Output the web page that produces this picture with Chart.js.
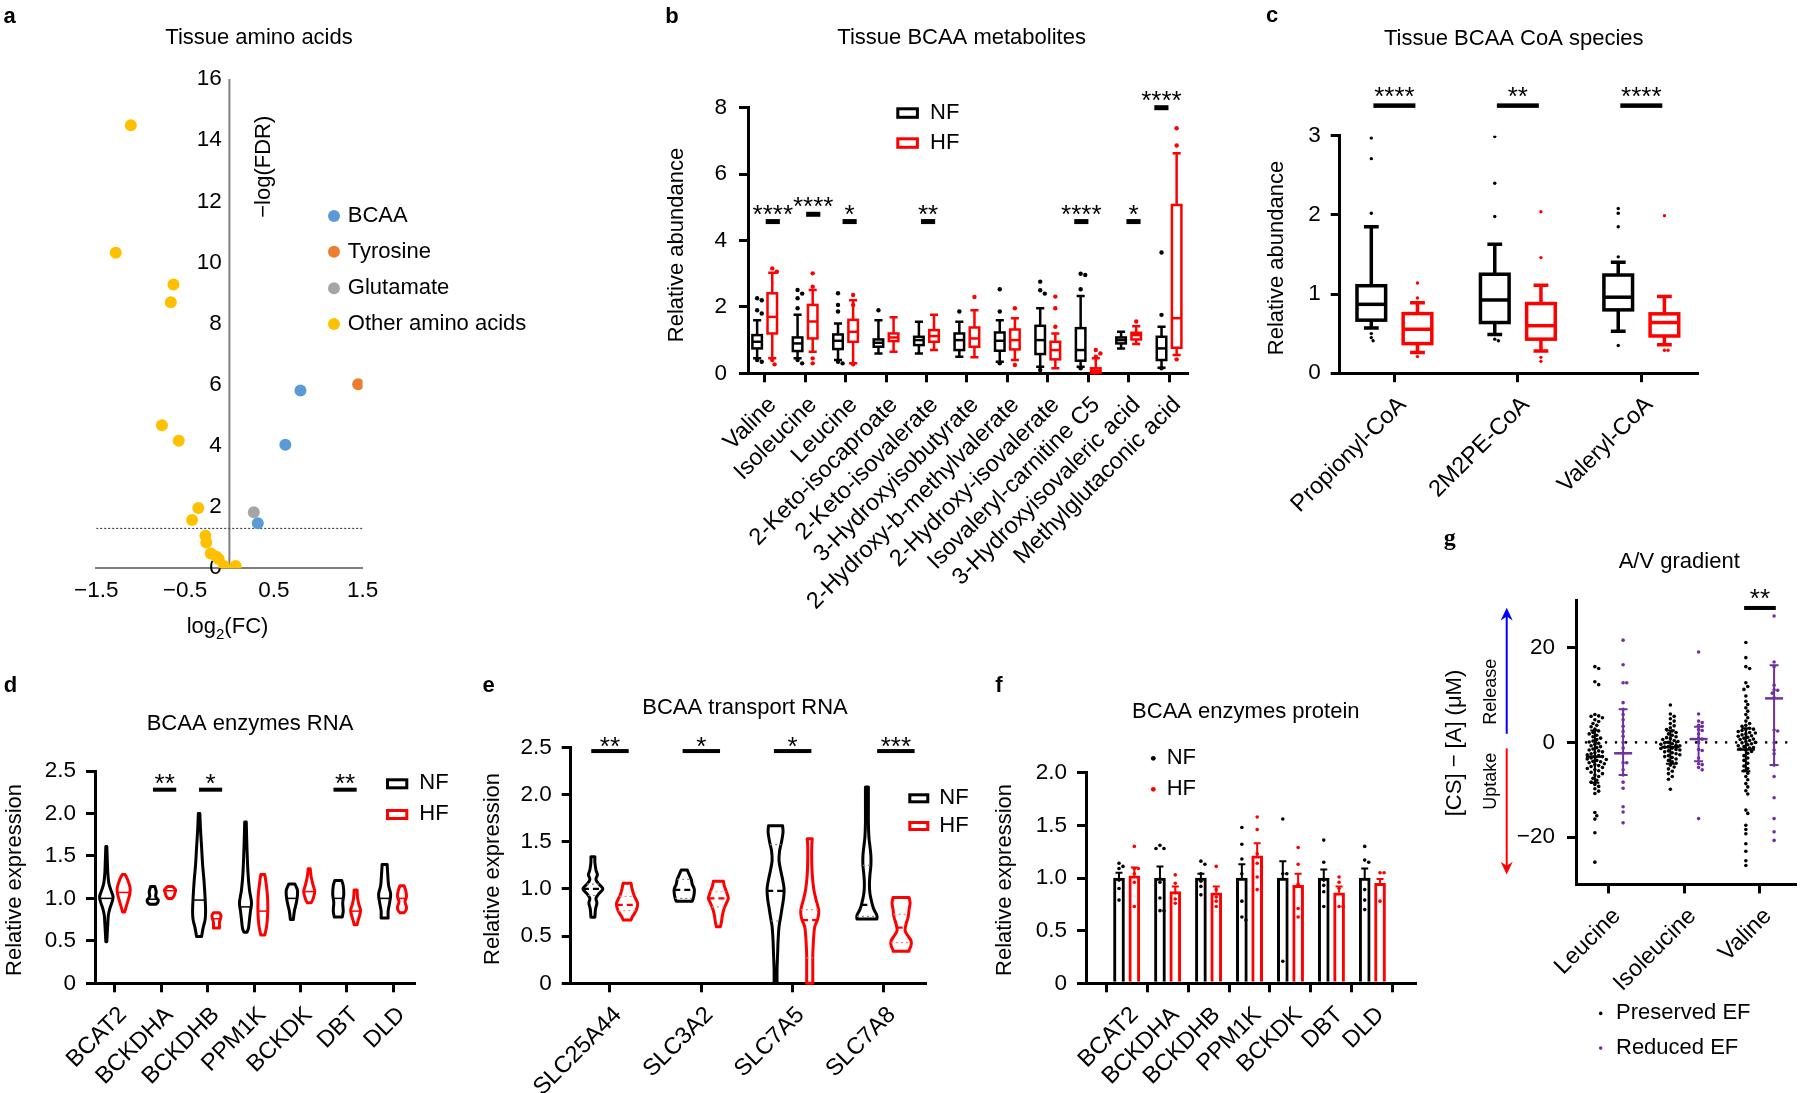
<!DOCTYPE html>
<html><head><meta charset="utf-8">
<script src="https://cdn.jsdelivr.net/npm/chart.js@4.4.1/dist/chart.umd.min.js"></script>
<style>
html,body{margin:0;padding:0;background:#fff;}
body{width:1800px;height:1093px;position:relative;overflow:hidden;}
canvas{position:absolute;left:0;top:0;}
</style></head><body>
<canvas id="ca" width="1800" height="1093"></canvas>
<canvas id="cb" width="1800" height="1093"></canvas>
<canvas id="cc" width="1800" height="1093"></canvas>
<canvas id="cd" width="1800" height="1093"></canvas>
<canvas id="ce" width="1800" height="1093"></canvas>
<canvas id="cf" width="1800" height="1093"></canvas>
<canvas id="cg" width="1800" height="1093"></canvas>
<script>
// ================= DATA =================
// --- Panel a: volcano plot ---
const aBCAA_log2FC = [0.80, 0.63, 0.32];
const aBCAA_negLogFDR = [5.81, 4.04, 1.47];
const aTyr_log2FC = [1.45];
const aTyr_negLogFDR = [6.02];
const aGlu_log2FC = [0.275];
const aGlu_negLogFDR = [1.83];
const aOther_log2FC = [-1.11, -1.28, -0.63, -0.66, -0.76, -0.57, -0.35, -0.42, -0.27, -0.26, -0.21, -0.15, -0.12, -0.06, 0.07];
const aOther_negLogFDR = [14.49, 10.32, 9.28, 8.70, 4.68, 4.17, 1.97, 1.58, 1.06, 0.84, 0.48, 0.38, 0.30, 0.07, 0.07];
const aFDRcut = 1.3;
const aLegend = ['BCAA', 'Tyrosine', 'Glutamate', 'Other amino acids'];
const aXTicks = [-1.5, -0.5, 0.5, 1.5];
const aXTickLabels = ['\u22121.5', '\u22120.5', '0.5', '1.5'];
const aYTicks = [0, 2, 4, 6, 8, 10, 12, 14, 16];
const aYTickLabels = ['0', '2', '4', '6', '8', '10', '12', '14', '16'];

// --- Panel b: box plots ---
const bCats = ['Valine', 'Isoleucine', 'Leucine', '2-Keto-isocaproate', '2-Keto-isovalerate', '3-Hydroxyisobutyrate', '2-Hydroxy-b-methylvalerate', '2-Hydroxy-isovalerate', 'Isovaleryl-carnitine C5', '3-Hydroxyisovaleric acid', 'Methylglutaconic acid'];
const bNF_min = [0.45, 0.45, 0.40, 0.60, 0.60, 0.50, 0.35, 0.20, 0.20, 0.75, 0.17];
const bNF_q1  = [0.75, 0.67, 0.73, 0.80, 0.85, 0.70, 0.68, 0.58, 0.38, 0.90, 0.40];
const bNF_med = [0.95, 0.90, 0.98, 0.92, 1.00, 1.00, 0.98, 1.00, 0.70, 1.00, 0.75];
const bNF_q3  = [1.15, 1.08, 1.17, 1.02, 1.10, 1.20, 1.23, 1.43, 1.36, 1.08, 1.10];
const bNF_max = [1.60, 1.76, 1.50, 1.60, 1.55, 1.55, 1.60, 1.96, 2.33, 1.25, 1.40];
const bNF_out = [[2.26, 2.20, 1.90, 1.80, 0.40, 0.35], [2.51, 2.40, 2.26, 1.96, 0.40, 0.30], [2.41, 2.06, 1.86, 0.35, 0.30], [1.90], [], [1.86], [2.53, 1.86, 0.30], [2.76, 2.50, 2.40, 0.10], [3.00, 2.96, 2.53, 0.15], [], [3.64, 1.76, 0.15]];
const bHF_min = [0.45, 0.65, 0.30, 0.65, 0.70, 0.48, 0.40, 0.15, 0.00, 0.88, 0.55];
const bHF_q1  = [1.20, 1.05, 0.95, 0.97, 0.95, 0.80, 0.72, 0.42, 0.02, 1.02, 0.77];
const bHF_med = [1.70, 1.56, 1.25, 1.08, 1.12, 1.05, 1.00, 0.70, 0.08, 1.15, 1.66];
const bHF_q3  = [2.41, 2.06, 1.61, 1.20, 1.30, 1.38, 1.32, 0.95, 0.15, 1.22, 5.07];
const bHF_max = [3.03, 2.51, 2.20, 1.69, 1.76, 1.90, 1.66, 1.20, 0.45, 1.42, 6.63];
const bHF_out = [[3.16, 3.06, 0.40, 0.27], [3.01, 2.61, 0.45, 0.30], [2.36, 2.06, 0.27], [], [], [2.30], [1.96, 0.25], [2.31, 1.96, 1.40], [0.70, 0.60, 0.50], [1.56], [7.38, 6.86, 0.42]];
const bSigIdx = [0, 1, 2, 4, 8, 9, 10];
const bSigY = [4.57, 4.79, 4.57, 4.57, 4.57, 4.57, 8.0];
const bSigStars = ['****', '****', '*', '**', '****', '*', '****'];
const bYTicks = [0, 2, 4, 6, 8];
const bYTickLabels = ['0', '2', '4', '6', '8'];

// --- Panel c: box plots ---
const cCats = ['Propionyl-CoA', '2M2PE-CoA', 'Valeryl-CoA'];
const cNF_min = [0.57, 0.49, 0.53];
const cNF_q1  = [0.67, 0.64, 0.80];
const cNF_med = [0.87, 0.925, 0.96];
const cNF_q3  = [1.105, 1.25, 1.24];
const cNF_max = [1.85, 1.63, 1.40];
const cNF_out = [[2.97, 2.71, 2.02, 0.50, 0.45, 0.41], [2.99, 2.40, 1.98, 0.43, 0.41], [2.08, 2.02, 1.85, 1.47, 0.35]];
const cHF_min = [0.26, 0.28, 0.36];
const cHF_q1  = [0.374, 0.43, 0.47];
const cHF_med = [0.555, 0.60, 0.64];
const cHF_q3  = [0.753, 0.88, 0.75];
const cHF_max = [0.89, 1.11, 0.97];
const cHF_out = [[1.14, 0.95, 0.21], [2.04, 1.46, 0.20, 0.15], [1.99, 0.29, 0.29]];
const cSigIdx = [0, 1, 2];
const cSigY = [3.38, 3.38, 3.38];
const cSigStars = ['****', '**', '****'];
const cYTicks = [0, 1, 2, 3];
const cYTickLabels = ['0', '1', '2', '3'];

// --- Panel d: violins (profile = [value, relative density]) ---
const dCats = ['BCAT2', 'BCKDHA', 'BCKDHB', 'PPM1K', 'BCKDK', 'DBT', 'DLD'];
const dNF_violin = [
  [[1.61,.07],[1.45,.14],[1.3,.21],[1.18,.36],[1.1,.64],[1.02,.96],[0.95,.79],[0.88,.5],[0.8,.29],[0.7,.21],[0.6,.14],[0.49,.07]],
  [[1.14,.29],[1.08,.5],[1.02,.43],[0.98,.79],[0.95,.71],[0.93,.43]],
  [[2.0,.11],[1.8,.21],[1.6,.36],[1.4,.5],[1.2,.71],[1.0,.86],[0.85,.93],[0.75,.86],[0.65,.57],[0.55,.36]],
  [[1.9,.11],[1.6,.21],[1.3,.36],[1.1,.57],[0.95,.86],[0.85,.71],[0.75,.57],[0.65,.43],[0.6,.21]],
  [[1.17,.43],[1.1,.79],[1.03,.79],[0.95,.64],[0.85,.36],[0.75,.21]],
  [[1.21,.5],[1.15,.71],[1.05,.79],[0.95,.64],[0.85,.71],[0.78,.57]],
  [[1.4,.36],[1.3,.43],[1.15,.57],[1.05,.86],[0.95,.71],[0.85,.5],[0.77,.5]]
];
const dHF_violin = [
  [[1.28,.21],[1.22,.57],[1.12,.93],[1.05,.86],[0.98,.64],[0.92,.43],[0.84,.14]],
  [[1.14,.36],[1.1,.79],[1.07,.71],[1.03,.57],[1.0,.29]],
  [[0.83,.43],[0.8,.64],[0.76,.57],[0.72,.43],[0.65,.43]],
  [[1.28,.29],[1.2,.43],[1.05,.64],[0.9,.71],[0.75,.64],[0.65,.5],[0.57,.29]],
  [[1.35,.14],[1.25,.29],[1.15,.57],[1.08,.79],[1.0,.57],[0.95,.29]],
  [[1.1,.21],[1.0,.29],[0.92,.5],[0.86,.71],[0.8,.57],[0.72,.29],[0.69,.21]],
  [[1.15,.29],[1.08,.57],[1.02,.64],[0.96,.43],[0.9,.64],[0.86,.57],[0.83,.29]]
];
const dNF_med = [1.0, 0.99, 0.98, 0.9, 1.0, 1.0, 1.0];
const dHF_med = [1.07, 1.09, 0.76, 0.85, 1.08, 0.85, 1.0];
const dSigIdx = [1, 2, 5];
const dSigY = [2.28, 2.28, 2.28];
const dSigStars = ['**', '*', '**'];
const dYTicks = [0, 0.5, 1, 1.5, 2, 2.5];
const dYTickLabels = ['0', '0.5', '1.0', '1.5', '2.0', '2.5'];

// --- Panel e: violins ---
const eCats = ['SLC25A44', 'SLC3A2', 'SLC7A5', 'SLC7A8'];
const eNF_violin = [
  [[1.34,.19],[1.28,.19],[1.2,.29],[1.15,.43],[1.1,.29],[1.05,.57],[1.0,.95],[0.95,.57],[0.9,.29],[0.85,.38],[0.78,.24],[0.7,.19]],
  [[1.2,.29],[1.15,.48],[1.1,.67],[1.05,.76],[1.0,.95],[0.95,.95],[0.9,.86],[0.87,.76]],
  [[1.67,.67],[1.6,.71],[1.5,.57],[1.4,.38],[1.3,.33],[1.2,.48],[1.1,.67],[1.0,.81],[0.9,.76],[0.8,.62],[0.7,.48],[0.6,.33],[0.45,.24],[0.3,.19],[0.15,.14],[0.0,.14]],
  [[2.08,.14],[1.9,.14],[1.7,.14],[1.55,.19],[1.45,.29],[1.35,.38],[1.25,.38],[1.15,.29],[1.05,.24],[0.95,.29],[0.85,.48],[0.78,.67],[0.72,.95],[0.68,.95]]
];
const eHF_violin = [
  [[1.06,.38],[1.0,.48],[0.93,.67],[0.85,1.0],[0.8,.95],[0.75,.76],[0.7,.48],[0.67,.38]],
  [[1.08,.48],[1.03,.57],[0.97,.76],[0.9,.95],[0.85,.76],[0.8,.57],[0.72,.38],[0.65,.29],[0.6,.19]],
  [[1.53,.24],[1.45,.19],[1.3,.19],[1.15,.24],[1.0,.38],[0.9,.57],[0.8,.81],[0.75,.86],[0.68,.76],[0.6,.48],[0.5,.38],[0.4,.33],[0.3,.29],[0.15,.29],[0.0,.29]],
  [[0.91,.76],[0.85,.86],[0.78,.76],[0.7,.67],[0.63,.48],[0.56,.38],[0.5,.67],[0.45,.95],[0.4,.95],[0.35,.76],[0.34,.76]]
];
const eNF_med = [1.0, 0.99, 0.98, 0.83];
const eNF_q1  = [0.93, 0.9, 0.66, 0.71];
const eNF_q3  = [1.05, 1.1, 1.47, 1.25];
const eHF_med = [0.83, 0.9, 0.67, 0.59];
const eHF_q1  = [0.77, 0.81, 0.27, 0.43];
const eHF_q3  = [0.92, 0.97, 0.78, 0.73];
const eSigIdx = [0, 1, 2, 3];
const eSigY = [2.46, 2.46, 2.46, 2.46];
const eSigStars = ['**', '*', '*', '***'];
const eYTicks = [0, 0.5, 1, 1.5, 2, 2.5];
const eYTickLabels = ['0', '0.5', '1.0', '1.5', '2.0', '2.5'];

// --- Panel f: bars (mean + SEM) with points ---
const fCats = ['BCAT2', 'BCKDHA', 'BCKDHB', 'PPM1K', 'BCKDK', 'DBT', 'DLD'];
const fNF_mean = [1.0, 1.0, 1.0, 1.0, 1.0, 1.0, 1.0];
const fNF_sem  = [0.05, 0.11, 0.04, 0.13, 0.16, 0.08, 0.09];
const fHF_mean = [1.02, 0.87, 0.86, 1.21, 0.93, 0.86, 0.95];
const fHF_sem  = [0.08, 0.05, 0.06, 0.12, 0.11, 0.06, 0.04];
const fNF_pts = [[1.14,1.11,1.09,0.98,0.9,0.79],[1.31,1.28,1.28,0.96,0.81,0.69,0.69],[1.16,1.13,1.04,0.97,0.92,0.84],[1.48,1.32,1.18,1.04,0.78,0.63,0.6],[1.56,1.04,1.04,0.21],[1.36,1.15,0.98,0.93,0.87,0.73],[1.3,1.17,1.15,0.89,0.79,0.7]];
const fHF_pts = [[1.3,1.09,1.09,1.04,0.96,0.73],[1.03,0.95,0.86,0.8,0.76],[1.11,0.89,0.82,0.78,0.73],[1.58,1.46,1.23,1.14,1.01,0.89],[1.29,1.13,0.94,0.71,0.63],[1.01,0.96,0.9,0.73,0.73],[1.05,1.05,0.78]];
const fYTicks = [0, 0.5, 1, 1.5, 2];
const fYTickLabels = ['0', '0.5', '1.0', '1.5', '2.0'];

// --- Panel g: A/V gradient scatter ---
const gCats = ['Leucine', 'Isoleucine', 'Valine'];
const gPreserved = [
  [16.0,15.6,12.8,12.2,5.9,5.6,5.5,5.2,4.8,4.4,4.0,3.6,3.3,2.8,2.4,2.1,1.8,1.5,1.2,0.9,0.6,0.3,0.1,-0.2,-0.4,-0.7,-0.9,-1.1,-1.4,-1.6,-1.8,-2.0,-2.2,-2.4,-2.6,-2.8,-3.0,-3.1,-3.3,-3.5,-3.6,-3.8,-4.0,-4.1,-4.3,-4.5,-4.7,-4.9,-5.1,-5.3,-5.5,-5.8,-6.0,-6.3,-6.6,-6.9,-7.2,-7.6,-8.0,-8.4,-8.9,-9.3,-9.8,-10.3,-10.8,-14.8,-15.5,-16.2,-19.1,-25.3],
  [7.9,6.0,5.5,5.0,4.5,4.0,3.5,3.1,2.7,2.4,2.1,1.8,1.5,1.2,1.0,0.8,0.6,0.4,0.2,0.0,-0.1,-0.3,-0.4,-0.6,-0.7,-0.9,-1.0,-1.2,-1.3,-1.5,-1.6,-1.8,-2.0,-2.2,-2.4,-2.6,-2.8,-3.0,-3.2,-3.5,-3.8,-4.1,-4.4,-4.8,-5.2,-5.6,-6.1,-6.6,-7.2,-7.8,-9.9],
  [21.1,17.9,16.0,15.6,12.6,11.8,11.2,9.8,8.7,8.0,7.3,6.6,5.9,5.2,4.5,4.0,3.6,3.4,3.0,2.8,2.7,2.5,2.3,2.1,2.0,1.8,1.6,1.4,1.3,1.1,0.9,0.7,0.6,0.4,0.2,0.0,-0.1,-0.3,-0.5,-0.7,-0.9,-1.1,-1.2,-1.4,-1.6,-1.9,-2.3,-2.8,-3.3,-3.8,-4.4,-5.0,-5.5,-6.0,-6.5,-7.2,-7.9,-8.7,-9.4,-10.2,-10.9,-14.3,-15.0,-17.5,-18.4,-19.3,-21.4,-23.0,-25.0,-26.0]
];
const gReduced = [
  [21.6,16.4,12.6,12.6,8.4,7.0,5.9,4.8,3.4,2.3,1.3,0.0,-1.2,-2.3,-4.3,-4.3,-5.8,-6.9,-8.4,-9.7,-13.6,-14.7,-17.0],
  [19.1,6.0,4.5,4.2,3.6,3.4,2.7,2.5,1.8,0.9,0.7,0.0,-1.5,-1.7,-3.3,-4.5,-4.7,-5.3,-5.8,-16.1],
  [26.7,17.0,16.0,12.1,11.1,11.0,10.4,9.4,2.6,2.4,-0.1,-1.6,-2.4,-4.8,-7.2,-11.7,-16.1,-18.9,-20.7]
];
const gPres_mid = [-3.0, -1.0, -1.5];
const gPres_lo  = [-8.5, -4.5, -6.1];
const gPres_hi  = [2.5, 2.5, 3.0];
const gRed_mid = [-2.3, 0.7, 9.3];
const gRed_lo  = [-6.9, -4.0, -4.8];
const gRed_hi  = [7.0, 3.3, 16.3];
const gSigIdx = [2];
const gSigY = [28.4];
const gSigStars = ['**'];
const gYTicks = [-20, 0, 20];
const gYTickLabels = ['\u221220', '0', '20'];

// ================= STYLE / LAYOUT =================
const FONT = "'Liberation Sans', Arial, Helvetica, sans-serif";
const RED = '#ff0000', PURPLE = '#7030a0';
const COL_A = ['#5b9bd5', '#ed7d31', '#a5a5a5', '#ffc000'];
const W = 1800, H = 1093, YW = 90;
const OFF = 0.187;
const AREA = {
  a: {l: 96.2, r: 362.6, t: 79.1, b: 568.2},
  b: {l: 748, r: 1187, t: 107.7, b: 373.3},
  c: {l: 1339.7, r: 1697.5, t: 135.7, b: 373.2},
  d: {l: 95, r: 414, t: 771, b: 983.3},
  e: {l: 570.7, r: 925, t: 747.3, b: 983.3},
  f: {l: 1086, r: 1415, t: 772.7, b: 983.3},
  g: {l: 1576, r: 1795, t: 600.4, b: 884.4}
};
Chart.defaults.font.family = FONT;
Chart.defaults.font.size = 22;
Chart.defaults.color = '#000';

function baseOpts(A, scales, yw) {
  return {
    responsive: false, maintainAspectRatio: false, animation: false, devicePixelRatio: 1, events: [],
    layout: {padding: {left: A.l - yw, top: A.t, right: W - A.r, bottom: 0}, autoPadding: false},
    plugins: {legend: {display: false}, tooltip: {enabled: false}, title: {display: false}},
    scales: scales
  };
}
const AXG = {drawOnChartArea: false, drawTicks: true, tickLength: 9, tickWidth: 3, lineWidth: 3, color: '#000'};
const AXB = {display: true, width: 3, color: '#000'};
function catX(A, labels, min, max) {
  return {
    type: 'linear', position: 'bottom', min: min, max: max,
    afterBuildTicks: s => { s.ticks = labels.map((_, i) => ({value: i})); },
    afterFit: s => { s.height = H - A.b; },
    ticks: {autoSkip: false, minRotation: 45, maxRotation: 45, padding: 9, labelOffset: 8, color: '#000', font: {size: 23.5}, callback: (v, i) => labels[i]},
    grid: AXG, border: AXB
  };
}
function valY(min, max, vals, labels, pd) {
  return {
    type: 'linear', position: 'left', min: min, max: max,
    afterBuildTicks: s => { s.ticks = vals.map(v => ({value: v})); },
    afterFit: s => { s.width = YW; },
    ticks: {padding: pd || 10, color: '#000', font: {size: 22.5}, callback: (v, i) => labels[i]},
    grid: AXG, border: AXB
  };
}
function drawText(ctx, it) {
  ctx.save();
  ctx.font = (it.bold ? 'bold ' : '') + (it.size || 22) + 'px ' + (it.family || FONT);
  ctx.fillStyle = it.color || '#000';
  ctx.textAlign = it.align || 'center';
  ctx.textBaseline = it.base || 'alphabetic';
  ctx.translate(it.x, it.y);
  if (it.rot) ctx.rotate(it.rot * Math.PI / 180);
  ctx.fillText(it.t, 0, 0);
  ctx.restore();
}
function textPlugin(id, items, extra) {
  return {id: id, afterDraw(chart) { items.forEach(it => drawText(chart.ctx, it)); if (extra) extra(chart.ctx, chart); }};
}
function XY(chart) {
  const xs = chart.scales.x, ys = chart.scales.y;
  return [v => xs.getPixelForValue(v), v => ys.getPixelForValue(v)];
}
function boxPlugin(id, groups, cfg) {
  return {id: id, beforeDatasetsDraw(chart) {
    const [X, Y] = XY(chart), ctx = chart.ctx;
    ctx.save();
    groups.forEach(g => {
      const c = X(g.c), hw = X(g.c + cfg.w / 2) - c, cw = X(g.c + cfg.cap / 2) - c;
      const y1 = Y(g.q1), y3 = Y(g.q3), ym = Y(g.med), ylo = Y(g.min), yhi = Y(g.max);
      ctx.strokeStyle = g.color; ctx.lineWidth = cfg.lw; ctx.lineCap = 'butt';
      ctx.beginPath();
      ctx.moveTo(c, y3); ctx.lineTo(c, yhi); ctx.moveTo(c - cw, yhi); ctx.lineTo(c + cw, yhi);
      ctx.moveTo(c, y1); ctx.lineTo(c, ylo); ctx.moveTo(c - cw, ylo); ctx.lineTo(c + cw, ylo);
      ctx.stroke();
      ctx.fillStyle = '#fff'; ctx.fillRect(c - hw, y3, 2 * hw, y1 - y3);
      ctx.strokeRect(c - hw, y3, 2 * hw, y1 - y3);
      ctx.beginPath(); ctx.moveTo(c - hw, ym); ctx.lineTo(c + hw, ym); ctx.stroke();
    });
    ctx.restore();
  }};
}
function sigPlugin(id, idx, ys, stars, cfg) {
  return {id: id, afterDatasetsDraw(chart) {
    const [X, Y] = XY(chart), ctx = chart.ctx;
    ctx.save();
    idx.forEach((k, j) => {
      const cx = k + (cfg.nudge ? cfg.nudge[j] : 0);
      const l = X(cx - cfg.w / 2), r = X(cx + cfg.w / 2), y = Y(ys[j]);
      ctx.fillStyle = '#000';
      ctx.fillRect(l, y - cfg.th / 2, r - l, cfg.th);
      ctx.font = '26px ' + FONT; ctx.textAlign = 'center'; ctx.textBaseline = 'alphabetic';
      ctx.fillText(stars[j], (l + r) / 2, y - cfg.gap + 15);
    });
    ctx.restore();
  }};
}
function smoothThrough(ctx, pts) {
  for (let i = 0; i < pts.length - 1; i++) {
    const p0 = pts[i - 1] || pts[i], p1 = pts[i], p2 = pts[i + 1], p3 = pts[i + 2] || p2, t = 1 / 6;
    ctx.bezierCurveTo(p1[0] + (p2[0] - p0[0]) * t, p1[1] + (p2[1] - p0[1]) * t,
                      p2[0] - (p3[0] - p1[0]) * t, p2[1] - (p3[1] - p1[1]) * t, p2[0], p2[1]);
  }
}
function hwAt(prof, v) {
  for (let i = 0; i < prof.length - 1; i++) {
    const a = prof[i], b = prof[i + 1];
    if (v <= a[0] && v >= b[0]) { const t = (a[0] - v) / ((a[0] - b[0]) || 1); return a[1] + (b[1] - a[1]) * t; }
  }
  return 0;
}
function violinPlugin(id, items, cfg) {
  return {id: id, beforeDatasetsDraw(chart) {
    const [X, Y] = XY(chart), ctx = chart.ctx;
    ctx.save();
    items.forEach(it => {
      const c = X(it.c), k = cfg.maxPx;
      const R = it.prof.map(p => [c + p[1] * k, Y(p[0])]);
      const L = it.prof.map(p => [c - p[1] * k, Y(p[0])]).reverse();
      ctx.beginPath();
      ctx.moveTo(L[L.length - 1][0], L[L.length - 1][1]);
      ctx.lineTo(R[0][0], R[0][1]);
      smoothThrough(ctx, R);
      ctx.lineTo(L[0][0], L[0][1]);
      smoothThrough(ctx, L);
      ctx.closePath();
      ctx.fillStyle = '#fff'; ctx.fill();
      ctx.strokeStyle = it.color; ctx.lineWidth = cfg.lw; ctx.lineJoin = 'round'; ctx.stroke();
      const hline = (v, col, lw, dash) => {
        const h = hwAt(it.prof, v) * k, y = Y(v);
        ctx.save(); ctx.strokeStyle = col; ctx.lineWidth = lw; ctx.setLineDash(dash);
        ctx.beginPath(); ctx.moveTo(c - h, y); ctx.lineTo(c + h, y); ctx.stroke(); ctx.restore();
      };
      if (it.q1 !== undefined) { hline(it.q1, it.qcol, 1.2, [2, 3]); hline(it.q3, it.qcol, 1.2, [2, 3]); }
      hline(it.med, it.color, cfg.medLw, cfg.medDash);
    });
    ctx.restore();
  }};
}
function beeswarm(ys, minDist) {
  const order = ys.map((y, i) => i).sort((a, b) => ys[a] - ys[b]);
  const placed = [], offs = new Array(ys.length).fill(0);
  for (const i of order) {
    const y = ys[i];
    for (let k = 0; k < 400; k++) {
      const step = Math.ceil(k / 2) * minDist * 0.5;
      const x = k === 0 ? 0 : (k % 2 ? step : -step);
      let ok = true;
      for (const p of placed) {
        if (Math.abs(p[1] - y) < minDist && (p[0] - x) * (p[0] - x) + (p[1] - y) * (p[1] - y) < minDist * minDist) { ok = false; break; }
      }
      if (ok) { offs[i] = x; placed.push([x, y]); break; }
    }
  }
  return offs;
}
function swarmPoints(chart, centers, lists, minDist) {
  const xs = chart.scales.x, ys = chart.scales.y;
  const kx = xs.getPixelForValue(1) - xs.getPixelForValue(0);
  const out = [];
  lists.forEach((vals, i) => {
    const py = vals.map(v => ys.getPixelForValue(v));
    const offs = beeswarm(py, minDist);
    vals.forEach((v, j) => out.push({x: centers[i] + offs[j] / kx, y: v}));
  });
  return out;
}
function pts(xs, ys) { return xs.map((x, i) => ({x: x, y: ys[i]})); }
const idx = n => Array.from({length: n}, (_, i) => i);

// ================= PANEL a =================
(function () {
  const A = AREA.a;
  const opts = baseOpts(A, {
    x: {type: 'linear', position: 'bottom', min: -1.5, max: 1.5,
        afterBuildTicks: s => { s.ticks = aXTicks.map(v => ({value: v})); },
        afterFit: s => { s.height = H - A.b; },
        ticks: {autoSkip: false, minRotation: 0, maxRotation: 0, padding: 9, color: '#000', font: {size: 22.5}, callback: (v, i) => aXTickLabels[i]},
        grid: {drawOnChartArea: false, drawTicks: false}, border: {display: true, width: 2, color: '#7f7f7f'}},
    y: {type: 'linear', position: {x: -0.085}, min: 0, max: 16,
        afterBuildTicks: s => { s.ticks = aYTicks.map(v => ({value: v})); },
        ticks: {padding: 8, color: '#000', font: {size: 22.5}, callback: (v, i) => aYTickLabels[i]},
        grid: {drawOnChartArea: false, drawTicks: false}, border: {display: false}}
  }, 0);
  const ds = (d, col) => ({data: d, backgroundColor: col, pointRadius: 6, pointBorderWidth: 0, order: 1});
  new Chart(document.getElementById('ca'), {
    type: 'scatter',
    data: {datasets: [
      ds(pts(aOther_log2FC, aOther_negLogFDR), COL_A[3]),
      ds(pts(aGlu_log2FC, aGlu_negLogFDR), COL_A[2]),
      ds(pts(aTyr_log2FC, aTyr_negLogFDR), COL_A[1]),
      ds(pts(aBCAA_log2FC, aBCAA_negLogFDR), COL_A[0]),
      {data: [{x: -1.5, y: aFDRcut}, {x: 1.5, y: aFDRcut}], showLine: true, borderColor: '#444', borderWidth: 1.2, borderDash: [2, 2], pointRadius: 0, order: 5},
      {data: [{x: 0, y: 0}, {x: 0, y: 16}], showLine: true, borderColor: '#7f7f7f', borderWidth: 2, pointRadius: 0, order: 6}
    ]},
    options: opts,
    plugins: [textPlugin('ta', [
      {t: 'a', x: 9.6, y: 23, bold: true, size: 22},
      {t: 'Tissue amino acids', x: 259, y: 44},
      {t: '\u2212log(FDR)', x: 263.5, y: 166.7, rot: -90, base: 'middle'},
      {t: aLegend[0], x: 347.8, y: 215.9, align: 'left', base: 'middle'},
      {t: aLegend[1], x: 347.8, y: 251.7, align: 'left', base: 'middle'},
      {t: aLegend[2], x: 347.8, y: 288.3, align: 'left', base: 'middle'},
      {t: aLegend[3], x: 347.8, y: 324, align: 'left', base: 'middle'}
    ], (ctx) => {
      [215.9, 251.7, 288.3, 324].forEach((y, i) => { ctx.fillStyle = COL_A[i]; ctx.beginPath(); ctx.arc(334, y, 6, 0, 2 * Math.PI); ctx.fill(); });
      ctx.save(); ctx.fillStyle = '#000'; ctx.textBaseline = 'alphabetic'; ctx.textAlign = 'left';
      ctx.font = '22px ' + FONT; const w1 = ctx.measureText('log').width, w3 = ctx.measureText('(FC)').width;
      ctx.font = '15px ' + FONT; const w2 = ctx.measureText('2').width;
      let x0 = 227.5 - (w1 + w2 + w3) / 2;
      ctx.font = '22px ' + FONT; ctx.fillText('log', x0, 633);
      ctx.font = '15px ' + FONT; ctx.fillText('2', x0 + w1, 639);
      ctx.font = '22px ' + FONT; ctx.fillText('(FC)', x0 + w1 + w2, 633);
      ctx.restore();
    })]
  });
})();

// ================= PANEL b =================
(function () {
  const A = AREA.b;
  const n = bCats.length;
  const groups = [];
  for (let i = 0; i < n; i++) {
    groups.push({c: i - OFF, min: bNF_min[i], q1: bNF_q1[i], med: bNF_med[i], q3: bNF_q3[i], max: bNF_max[i], color: '#000'});
    groups.push({c: i + OFF, min: bHF_min[i], q1: bHF_q1[i], med: bHF_med[i], q3: bHF_q3[i], max: bHF_max[i], color: RED});
  }
  const ch = new Chart(document.getElementById('cb'), {
    type: 'scatter',
    data: {datasets: [
      {data: [], backgroundColor: '#000', pointRadius: 2.2, pointBorderWidth: 0},
      {data: [], backgroundColor: RED, pointRadius: 2.2, pointBorderWidth: 0}
    ]},
    options: baseOpts(A, {x: catX(A, bCats, -0.413, 10.443), y: valY(0, 8, bYTicks, bYTickLabels, 12)}, YW),
    plugins: [
      boxPlugin('bb', groups, {w: 0.235, cap: 0.2, lw: 2.5}),
      sigPlugin('bs', bSigIdx, bSigY, bSigStars, {w: 0.35, th: 5, gap: 14, nudge: [0.2, 0.2, 0.1, 0.04, -0.17, 0.12, -0.19]}),
      textPlugin('tb', [
        {t: 'b', x: 672, y: 23.3, bold: true, size: 22},
        {t: 'Tissue BCAA metabolites', x: 961.6, y: 44.3},
        {t: 'Relative abundance', x: 677, y: 245, rot: -90, base: 'middle'},
        {t: 'NF', x: 930, y: 113, align: 'left', base: 'middle'},
        {t: 'HF', x: 930, y: 143, align: 'left', base: 'middle'}
      ], (ctx) => {
        ctx.save(); ctx.lineWidth = 3;
        ctx.strokeStyle = '#000'; ctx.strokeRect(897.8, 108.8, 19.6, 8.5);
        ctx.strokeStyle = RED; ctx.strokeRect(897.8, 138.8, 19.6, 8.5);
        ctx.restore();
      })
    ]
  });
  ch.data.datasets[0].data = swarmPoints(ch, idx(n).map(i => i - OFF), bNF_out, 4.6);
  ch.data.datasets[1].data = swarmPoints(ch, idx(n).map(i => i + OFF), bHF_out, 4.6);
  ch.update('none');
})();

// ================= PANEL c =================
(function () {
  const A = AREA.c;
  const n = cCats.length;
  const groups = [];
  for (let i = 0; i < n; i++) {
    groups.push({c: i - OFF, min: cNF_min[i], q1: cNF_q1[i], med: cNF_med[i], q3: cNF_q3[i], max: cNF_max[i], color: '#000'});
    groups.push({c: i + OFF, min: cHF_min[i], q1: cHF_q1[i], med: cHF_med[i], q3: cHF_q3[i], max: cHF_max[i], color: RED});
  }
  const ch = new Chart(document.getElementById('cc'), {
    type: 'scatter',
    data: {datasets: [
      {data: [], backgroundColor: '#000', pointRadius: 1.7, pointBorderWidth: 0},
      {data: [], backgroundColor: RED, pointRadius: 1.7, pointBorderWidth: 0}
    ]},
    options: baseOpts(A, {x: catX(A, cCats, -0.443, 2.455), y: valY(0, 3, cYTicks, cYTickLabels)}, YW),
    plugins: [
      boxPlugin('cb', groups, {w: 0.232, cap: 0.12, lw: 3.5}),
      sigPlugin('cs', cSigIdx, cSigY, cSigStars, {w: 0.34, th: 4.5, gap: 16}),
      textPlugin('tc', [
        {t: 'c', x: 1272, y: 22, bold: true, size: 22},
        {t: 'Tissue BCAA CoA species', x: 1513.8, y: 44.5},
        {t: 'Relative abundance', x: 1276.5, y: 258, rot: -90, base: 'middle'}
      ])
    ]
  });
  ch.data.datasets[0].data = swarmPoints(ch, idx(n).map(i => i - OFF), cNF_out, 3.6);
  ch.data.datasets[1].data = swarmPoints(ch, idx(n).map(i => i + OFF), cHF_out, 3.6);
  ch.update('none');
})();

// ================= PANEL d =================
(function () {
  const A = AREA.d;
  const items = [];
  dCats.forEach((_, i) => {
    items.push({c: i - OFF, prof: dNF_violin[i], med: dNF_med[i], color: '#000'});
    items.push({c: i + OFF, prof: dHF_violin[i], med: dHF_med[i], color: RED});
  });
  new Chart(document.getElementById('cd'), {
    type: 'scatter',
    data: {datasets: [{data: pts(idx(7).map(i => i - OFF), dNF_med), pointRadius: 0}, {data: pts(idx(7).map(i => i + OFF), dHF_med), pointRadius: 0}]},
    options: baseOpts(A, {x: catX(A, dCats, -0.431, 6.446), y: valY(0, 2.5, dYTicks, dYTickLabels)}, YW),
    plugins: [
      violinPlugin('dv', items, {maxPx: 7, lw: 3, medLw: 1.5, medDash: []}),
      sigPlugin('ds', dSigIdx, dSigY, dSigStars, {w: 0.5, th: 4, gap: 13, nudge: [0.07, 0.06, -0.04]}),
      textPlugin('td', [
        {t: 'd', x: 10.5, y: 692, bold: true, size: 22},
        {t: 'BCAA enzymes RNA', x: 250, y: 730},
        {t: 'Relative expression', x: 15, y: 880, rot: -90, base: 'middle'},
        {t: 'NF', x: 419.3, y: 783.3, align: 'left', base: 'middle'},
        {t: 'HF', x: 419.3, y: 814, align: 'left', base: 'middle'}
      ], (ctx) => {
        ctx.save(); ctx.lineWidth = 3;
        ctx.strokeStyle = '#000'; ctx.strokeRect(387.5, 779.8, 19.3, 8);
        ctx.strokeStyle = RED; ctx.strokeRect(387.5, 810.5, 19.3, 8);
        ctx.restore();
      })
    ]
  });
})();

// ================= PANEL e =================
(function () {
  const A = AREA.e;
  const items = [];
  eCats.forEach((_, i) => {
    items.push({c: i - OFF, prof: eNF_violin[i], med: eNF_med[i], q1: eNF_q1[i], q3: eNF_q3[i], color: '#000', qcol: '#888'});
    items.push({c: i + OFF, prof: eHF_violin[i], med: eHF_med[i], q1: eHF_q1[i], q3: eHF_q3[i], color: RED, qcol: '#ff8080'});
  });
  new Chart(document.getElementById('ce'), {
    type: 'scatter',
    data: {datasets: [{data: pts(idx(4).map(i => i - OFF), eNF_med), pointRadius: 0}, {data: pts(idx(4).map(i => i + OFF), eHF_med), pointRadius: 0}]},
    options: baseOpts(A, {x: catX(A, eCats, -0.430, 3.449), y: valY(0, 2.5, eYTicks, eYTickLabels)}, YW),
    plugins: [
      violinPlugin('ev', items, {maxPx: 10.5, lw: 3, medLw: 2.2, medDash: [6, 4]}),
      sigPlugin('es', eSigIdx, eSigY, eSigStars, {w: 0.41, th: 4, gap: 11, nudge: [0, 0, 0, 0.13]}),
      textPlugin('te', [
        {t: 'e', x: 488.5, y: 692, bold: true, size: 22},
        {t: 'BCAA transport RNA', x: 745, y: 714},
        {t: 'Relative expression', x: 492.5, y: 869, rot: -90, base: 'middle'},
        {t: 'NF', x: 939.3, y: 798.3, align: 'left', base: 'middle'},
        {t: 'HF', x: 939.3, y: 826, align: 'left', base: 'middle'}
      ], (ctx) => {
        ctx.save(); ctx.lineWidth = 3;
        ctx.strokeStyle = '#000'; ctx.strokeRect(909.8, 794.8, 18, 7);
        ctx.strokeStyle = RED; ctx.strokeRect(909.8, 822.5, 18, 7);
        ctx.restore();
      })
    ]
  });
})();

// ================= PANEL f =================
(function () {
  const A = AREA.f;
  const n = fCats.length;
  const barDs = (xs, ys, col) => ({type: 'bar', data: pts(xs, ys), backgroundColor: '#fff', borderColor: col, borderWidth: 3,
    borderSkipped: 'start', grouped: false, maxBarThickness: 11, barPercentage: 1, categoryPercentage: 1, order: 3});
  const ch = new Chart(document.getElementById('cf'), {
    type: 'scatter',
    data: {datasets: [
      {data: [], backgroundColor: '#000', pointRadius: 1.8, pointBorderWidth: 0, order: 1},
      {data: [], backgroundColor: RED, pointRadius: 1.8, pointBorderWidth: 0, order: 1},
      barDs(idx(n).map(i => i - OFF), fNF_mean, '#000'),
      barDs(idx(n).map(i => i + OFF), fHF_mean, RED)
    ]},
    options: baseOpts(A, {x: catX(A, fCats, -0.419, 6.467), y: valY(0, 2, fYTicks, fYTickLabels)}, YW),
    plugins: [
      {id: 'fe', afterDatasetsDraw(chart) {
        const [X, Y] = XY(chart), ctx = chart.ctx;
        ctx.save(); ctx.lineWidth = 2;
        const eb = (cx, m, e, col) => { const x = X(cx), y0 = Y(m), y1 = Y(m + e);
          ctx.strokeStyle = col; ctx.beginPath(); ctx.moveTo(x, y0); ctx.lineTo(x, y1); ctx.moveTo(x - 3.5, y1); ctx.lineTo(x + 3.5, y1); ctx.stroke(); };
        for (let i = 0; i < n; i++) { eb(i - OFF, fNF_mean[i], fNF_sem[i], '#000'); eb(i + OFF, fHF_mean[i], fHF_sem[i], RED); }
        ctx.restore();
      }},
      textPlugin('tf', [
        {t: 'f', x: 999, y: 692, bold: true, size: 22},
        {t: 'BCAA enzymes protein', x: 1245.8, y: 717.5},
        {t: 'Relative expression', x: 1004.5, y: 880, rot: -90, base: 'middle'},
        {t: 'NF', x: 1166.7, y: 758.3, align: 'left', base: 'middle'},
        {t: 'HF', x: 1166.7, y: 789.3, align: 'left', base: 'middle'}
      ], (ctx) => {
        ctx.save();
        ctx.fillStyle = '#000'; ctx.beginPath(); ctx.arc(1153.3, 758.3, 2.4, 0, 2 * Math.PI); ctx.fill();
        ctx.fillStyle = RED; ctx.beginPath(); ctx.arc(1153.3, 789.3, 2.4, 0, 2 * Math.PI); ctx.fill();
        ctx.restore();
      })
    ]
  });
  ch.data.datasets[0].data = swarmPoints(ch, idx(n).map(i => i - OFF), fNF_pts, 4.0);
  ch.data.datasets[1].data = swarmPoints(ch, idx(n).map(i => i + OFF), fHF_pts, 4.0);
  ch.update('none');
})();

// ================= PANEL g =================
(function () {
  const A = AREA.g;
  const ch = new Chart(document.getElementById('cg'), {
    type: 'scatter',
    data: {datasets: [
      {data: [], backgroundColor: '#000', pointRadius: 1.8, pointBorderWidth: 0, order: 1},
      {data: [], backgroundColor: PURPLE, pointRadius: 1.8, pointBorderWidth: 0, order: 1},
      {data: [{x: -0.437, y: 0}, {x: 2.464, y: 0}], showLine: true, borderColor: '#000', borderWidth: 2.6, borderDash: [0.01, 10], borderCapStyle: 'round', pointRadius: 0, order: 4}
    ]},
    options: baseOpts(A, {x: catX(A, gCats, -0.437, 2.464), y: valY(-30, 30, gYTicks, gYTickLabels, 12)}, YW),
    plugins: [
      {id: 'ge', afterDatasetsDraw(chart) {
        const [X, Y] = XY(chart), ctx = chart.ctx;
        ctx.save();
        const eb = (cx, m, lo, hi, col) => { const x = X(cx);
          ctx.strokeStyle = col; ctx.lineWidth = 2; ctx.beginPath();
          ctx.moveTo(x, Y(lo)); ctx.lineTo(x, Y(hi));
          ctx.moveTo(x - 4.5, Y(lo)); ctx.lineTo(x + 4.5, Y(lo));
          ctx.moveTo(x - 4.5, Y(hi)); ctx.lineTo(x + 4.5, Y(hi)); ctx.stroke();
          ctx.lineWidth = 2.5; ctx.beginPath(); ctx.moveTo(x - 9, Y(m)); ctx.lineTo(x + 9, Y(m)); ctx.stroke(); };
        for (let i = 0; i < 3; i++) {
          eb(i - OFF, gPres_mid[i], gPres_lo[i], gPres_hi[i], '#000');
          eb(i + OFF, gRed_mid[i], gRed_lo[i], gRed_hi[i], PURPLE);
        }
        ctx.restore();
      }},
      sigPlugin('gs', gSigIdx, gSigY, gSigStars, {w: 0.42, th: 4, gap: 16}),
      textPlugin('tg', [
        {t: 'g', x: 1449.7, y: 545, bold: true, size: 24, family: "'Liberation Serif', 'Times New Roman', serif"},
        {t: 'A/V gradient', x: 1679.2, y: 568},
        {t: '[CS] \u2212 [A] (\u03bcM)', x: 1455.3, y: 743, rot: -90, base: 'middle'},
        {t: 'Release', x: 1490.7, y: 691.8, rot: -90, base: 'middle', size: 18},
        {t: 'Uptake', x: 1490.7, y: 781.3, rot: -90, base: 'middle', size: 18},
        {t: 'Preserved EF', x: 1616, y: 1013.4, align: 'left', base: 'middle'},
        {t: 'Reduced EF', x: 1616, y: 1048.1, align: 'left', base: 'middle'}
      ], (ctx) => {
        ctx.save();
        const x = 1506.7;
        ctx.lineWidth = 2;
        ctx.strokeStyle = '#0000ff'; ctx.fillStyle = '#0000ff';
        ctx.beginPath(); ctx.moveTo(x, 733.8); ctx.lineTo(x, 616); ctx.stroke();
        ctx.beginPath(); ctx.moveTo(x, 607.7); ctx.lineTo(x - 6, 620.5); ctx.lineTo(x, 616.5); ctx.lineTo(x + 6, 620.5); ctx.closePath(); ctx.fill();
        ctx.strokeStyle = RED; ctx.fillStyle = RED;
        ctx.beginPath(); ctx.moveTo(x, 748.4); ctx.lineTo(x, 866); ctx.stroke();
        ctx.beginPath(); ctx.moveTo(x, 874.5); ctx.lineTo(x - 6, 861.7); ctx.lineTo(x, 865.7); ctx.lineTo(x + 6, 861.7); ctx.closePath(); ctx.fill();
        ctx.fillStyle = '#000'; ctx.beginPath(); ctx.arc(1600.7, 1013.4, 1.8, 0, 2 * Math.PI); ctx.fill();
        ctx.fillStyle = PURPLE; ctx.beginPath(); ctx.arc(1600.7, 1048.1, 1.8, 0, 2 * Math.PI); ctx.fill();
        ctx.restore();
      })
    ]
  });
  ch.data.datasets[0].data = swarmPoints(ch, idx(3).map(i => i - OFF), gPreserved, 3.8);
  ch.data.datasets[1].data = swarmPoints(ch, idx(3).map(i => i + OFF), gReduced, 3.6);
  ch.update('none');
})();
</script>
</body></html>
